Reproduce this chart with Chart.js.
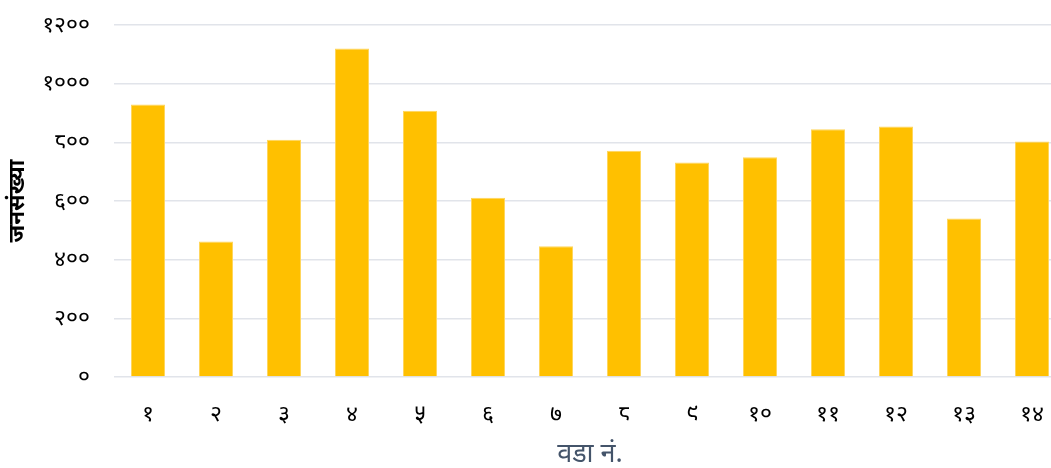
<!DOCTYPE html>
<html lang="ne">

<head>
    <meta charset="UTF-8">
    <title>जनसंख्या</title>
    <script src="https://cdn.jsdelivr.net/npm/chart.js@4.4.9/dist/chart.umd.min.js"></script>
    <style>
        html, body { margin: 0; padding: 0; background: #ffffff; overflow: hidden; }
        .grafico { position: relative; width: 1068px; height: 471px; }
    </style>
</head>

<body>
    <div class="grafico">
        <canvas id="myChartCanvas"></canvas>
    </div>
</body>

</html>
<script>
    // वडा नं.
    const wardLabels = ['१', '२', '३', '४', '५', '६', '७', '८', '९', '१०', '११', '१२', '१३', '१४'];
    // जनसंख्या
    const population = [929, 462, 809, 1120, 908, 611, 446, 771, 731, 749, 845, 854, 540, 803];
    // y ticks
    const yTickValues = [0, 200, 400, 600, 800, 1000, 1200];
    const yTickLabels = ['०', '२००', '४००', '६००', '८००', '१०००', '१२००'];

    const config = {
        type: 'bar',
        data: {
            labels: wardLabels,
            datasets: [{
                label: 'जनसंख्या',
                data: population,
                backgroundColor: '#ffc000',
                borderColor: '#ffd65c',
                borderWidth: 1,
                categoryPercentage: 0.5,
                barPercentage: 1.0
            }]
        },
        options: {
            responsive: true,
            maintainAspectRatio: false,
            animation: false,
            layout: { padding: { top: 25, left: 4, right: 2, bottom: 0 } },
            plugins: {
                legend: { display: false },
                tooltip: { enabled: false }
            },
            scales: {
                x: {
                    afterFit: function (axis) {
                        axis.height = 94;
                        axis.paddingLeft = 0;
                        axis.paddingRight = 0;
                    },
                    grid: { display: false },
                    border: { display: false },
                    ticks: {
                        color: '#000000',
                        padding: 16,
                        font: { family: 'Noto Sans', size: 23 }
                    },
                    title: {
                        display: true,
                        text: 'वडा नं.',
                        color: '#44546a',
                        padding: { top: 2, bottom: 0 },
                        font: { family: 'Noto Sans', size: 27 }
                    }
                },
                y: {
                    min: 0,
                    max: 1200,
                    afterBuildTicks: function (axis) {
                        axis.ticks = yTickValues.map(function (v) { return { value: v }; });
                    },
                    afterFit: function (axis) {
                        axis.width = 110;
                        axis.paddingTop = 0;
                        axis.paddingBottom = 0;
                    },
                    grid: {
                        color: '#e1e4ea',
                        lineWidth: 1.5,
                        drawTicks: false
                    },
                    border: { display: false },
                    ticks: {
                        color: '#000000',
                        padding: 24,
                        font: { family: 'Noto Sans', size: 23 },
                        callback: function (value) {
                            return yTickLabels[yTickValues.indexOf(value)];
                        }
                    },
                    title: {
                        display: true,
                        text: 'जनसंख्या',
                        color: '#000000',
                        padding: { top: 0, bottom: 2 },
                        font: { family: 'Noto Sans', size: 22.5, weight: 'bold' }
                    }
                }
            }
        }
    };

    let myChart = new Chart(document.getElementById('myChartCanvas'), config);
</script>
